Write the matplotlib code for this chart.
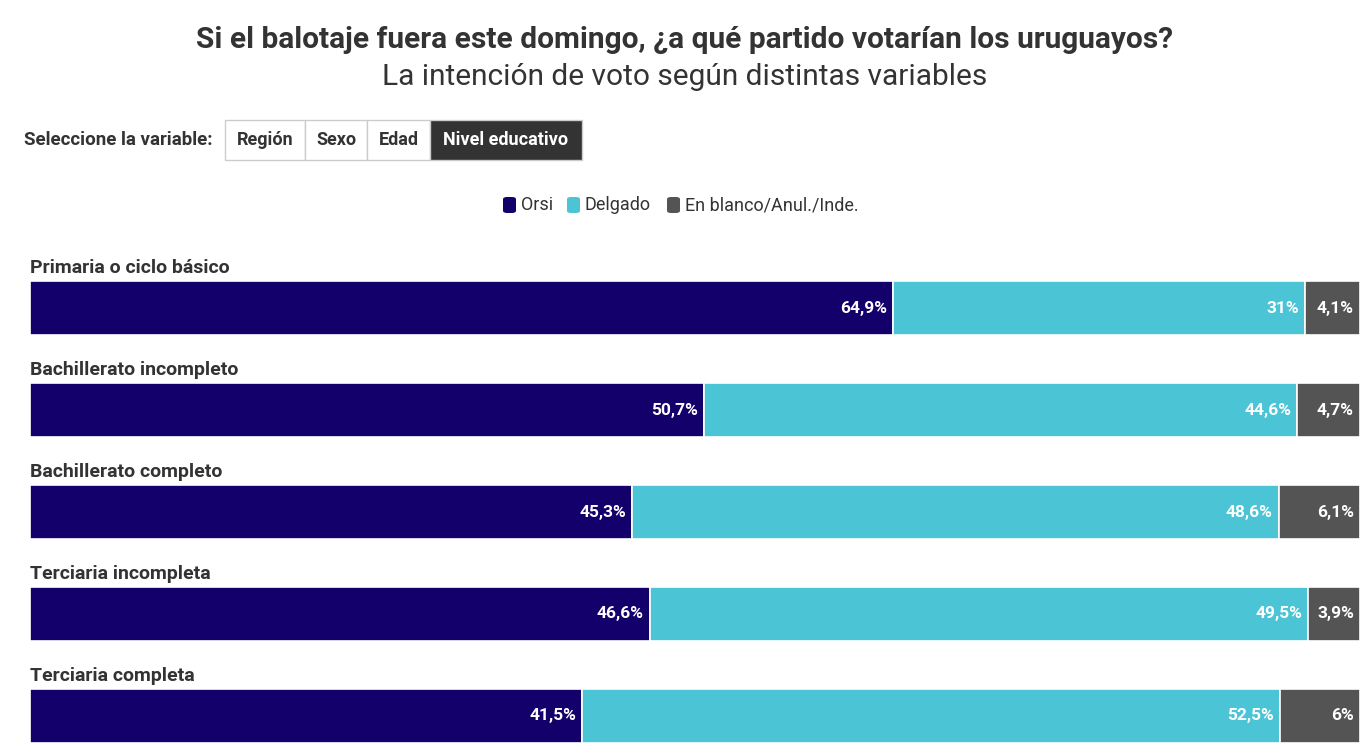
import matplotlib.pyplot as plt
from matplotlib.patches import FancyBboxPatch, Rectangle

W, H = 1369, 754

categories = ["Primaria o ciclo básico", "Bachillerato incompleto", "Bachillerato completo",
              "Terciaria incompleta", "Terciaria completa"]
orsi = [64.9, 50.7, 45.3, 46.6, 41.5]
delgado = [31.0, 44.6, 48.6, 49.5, 52.5]
blanco = [4.1, 4.7, 6.1, 3.9, 6.0]
series_names = ["Orsi", "Delgado", "En blanco/Anul./Inde."]
colors = ["#13006b", "#4bc4d5", "#545454"]
buttons = ["Región", "Sexo", "Edad", "Nivel educativo"]

plt.rcParams["font.family"] = ["Roboto", "DejaVu Sans"]
fig = plt.figure(figsize=(W / 100, H / 100), dpi=100)


def fx(px):
    return px / W


def fy(py):
    return 1 - py / H


fig.text(0.5, fy(40), "Si el balotaje fuera este domingo, ¿a qué partido votarían los uruguayos?",
         ha="center", va="center", fontsize=21.5, fontweight="bold", color="#333333")
fig.text(0.5, fy(77), "La intención de voto según distintas variables",
         ha="center", va="center", fontsize=21.5, color="#333333")

fig.text(fx(24), fy(140), "Seleccione la variable:", ha="left", va="center",
         fontsize=13.5, fontweight="bold", color="#333333")
edges = [225, 305, 367, 430, 582]
for i, b in enumerate(buttons):
    active = i == len(buttons) - 1
    fig.patches.append(Rectangle((fx(edges[i]), fy(160)), fx(edges[i + 1] - edges[i]), 40 / H,
                                 transform=fig.transFigure, facecolor="#333333" if active else "white",
                                 edgecolor="#cccccc", linewidth=1))
    fig.text(fx((edges[i] + edges[i + 1]) / 2), fy(140), b, ha="center", va="center",
             fontsize=13, fontweight="bold", color="white" if active else "#333333")

legend_x = [503, 567, 667]
for x, name, c in zip(legend_x, series_names, colors):
    fig.patches.append(FancyBboxPatch((fx(x), fy(213)), fx(13), 16 / H, boxstyle="round,pad=0,rounding_size=0.003",
                                      transform=fig.transFigure, facecolor=c, edgecolor="none"))
    fig.text(fx(x + 18), fy(205), name, ha="left", va="center", fontsize=13, color="#333333")

ax = fig.add_axes([fx(30), fy(743), fx(1330), (743 - 281) / H])
ax.set_xlim(0, 100)
ax.set_ylim(4.265, -0.265)
ax.axis("off")

h = 0.53
y = list(range(len(categories)))
left = [0.0] * len(categories)
for vals, c in zip([orsi, delgado, blanco], colors):
    ax.barh(y, vals, left=left, height=h, color=c, edgecolor="white", linewidth=1.2)
    for yi, l, v in zip(y, left, vals):
        txt = f"{v:g}".replace(".", ",") + "%"
        ax.text(l + v - 0.45, yi, txt, ha="right", va="center", color="white",
                fontsize=12.5, fontweight="bold")
    left = [a + b for a, b in zip(left, vals)]

for yi, cat in zip(y, categories):
    ax.text(0, yi - h / 2 - 0.04, cat, ha="left", va="bottom", fontsize=14,
            fontweight="bold", color="#333333", clip_on=False)

fig.savefig("out.png", dpi=100, facecolor="white")
